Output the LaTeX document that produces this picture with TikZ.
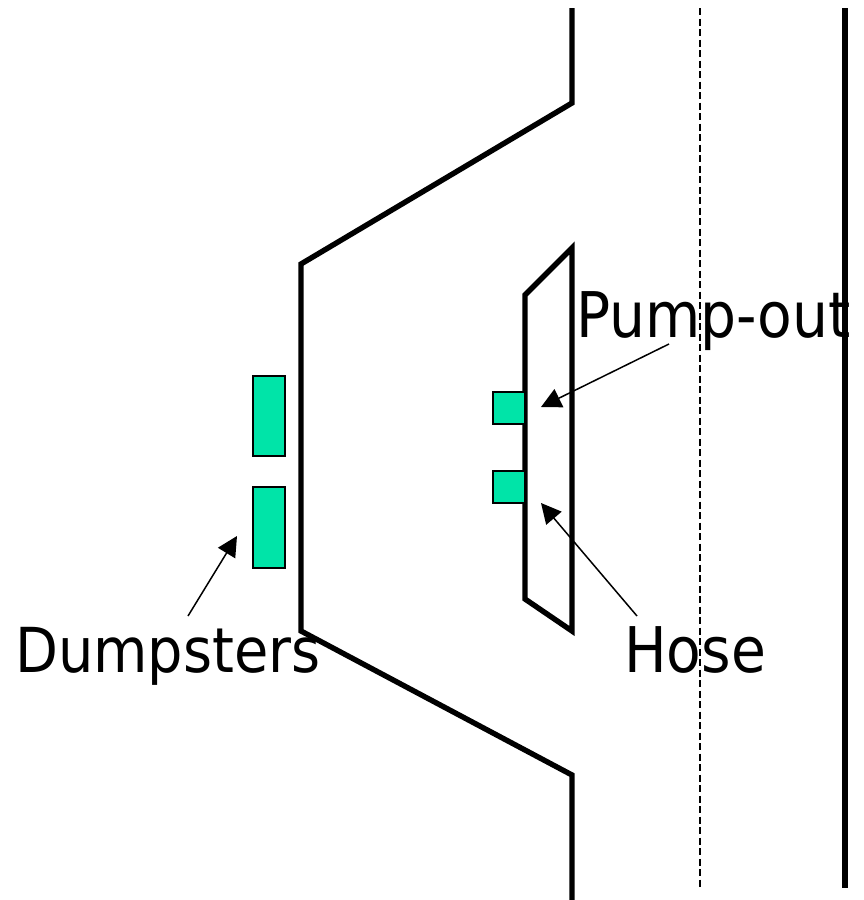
\documentclass[tikz,border=0pt]{standalone}
\usepackage{fontspec}
\setmainfont{DejaVu Sans Condensed}
\usetikzlibrary{arrows.meta}
\tikzset{
 x=1pt,y=-1pt,
 wall/.style={line width=5.4pt,line cap=butt,line join=miter,black},
 binbox/.style={draw=black,line width=1.6pt,fill=bincol},
 lbl/.style={inner sep=0,font=\fontsize{62}{66}\selectfont,text=black},
 lead/.style={line width=1.5pt,-{Triangle[length=20pt,width=20pt]}},
}
\definecolor{bincol}{RGB}{0,228,168}
\begin{document}
\begin{tikzpicture}
\useasboundingbox (0,0) rectangle (864,900);
\fill[white] (0,0) rectangle (864,900);
\draw[wall] (572,8)--(572,103)--(301,264)--(301,631)--(572,775)--(572,900);
\draw[wall] (572,248)--(525,295)--(525,599)--(572,631)--cycle;
\draw[wall] (845,8)--(845,888);
\draw[line width=1.5pt,dash pattern=on 7pt off 3.5pt] (700,8)--(700,888);
\draw[binbox] (253,376) rectangle (285,456);
\draw[binbox] (253,487) rectangle (285,568);
\draw[binbox] (493,392) rectangle (525,424);
\draw[binbox] (493,471) rectangle (525,503);
\node[lbl,anchor=base west,font=\fontsize{63}{66}\selectfont] (pump) at (576,337) {Pump-out};
\node[lbl,anchor=base west,font=\fontsize{63}{66}\selectfont] (hose) at (624,672) {Hose};
\node[lbl,anchor=base west] (dump) at (15,672) {Dumpsters};
\coordinate (p1) at (669,344); \coordinate (p2) at (541,407);
\coordinate (h1) at (637,616); \coordinate (h2) at (541,503);
\coordinate (d1) at (188,616); \coordinate (d2) at (237,536);
\draw[lead] (p1)--(p2);
\draw[lead] (h1)--(h2);
\draw[lead] (d1)--(d2);
\end{tikzpicture}
\end{document}
